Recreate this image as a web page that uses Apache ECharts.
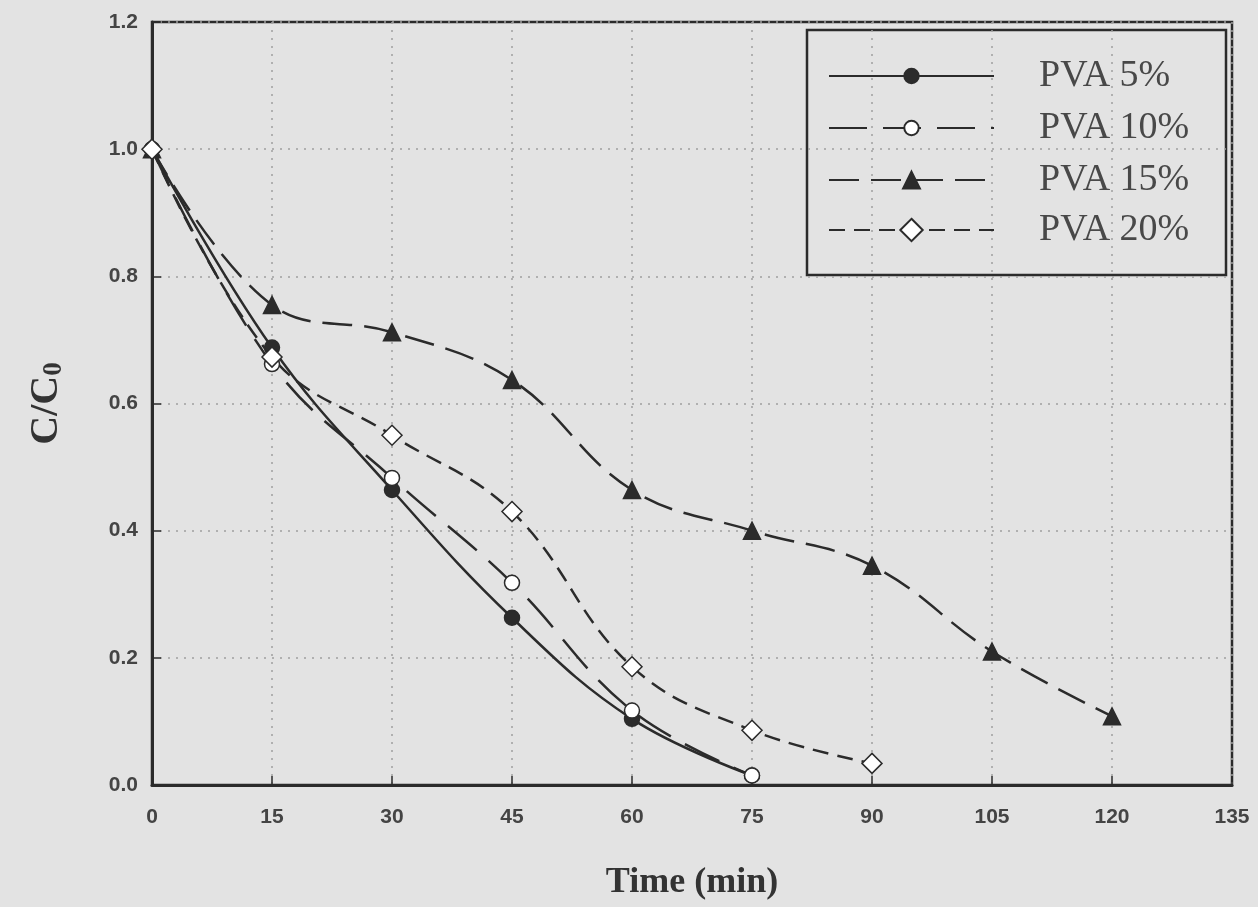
<!DOCTYPE html>
<html>
<head>
<meta charset="utf-8">
<script src="https://cdn.jsdelivr.net/npm/echarts@6/dist/echarts.min.js"></script>
<style>
  html, body { margin: 0; padding: 0; background: #e3e3e3; }
  #chart { width: 1258px; height: 907px; }
</style>
</head>
<body>
<div id="chart"></div>
<script>
// time in minutes
var times = [0, 15, 30, 45, 60, 75, 90, 105, 120]
var pva5 = [1.0, 0.688, 0.464, 0.263, 0.104, 0.015]
var pva10 = [1.0, 0.662, 0.483, 0.318, 0.117, 0.015]
var pva15 = [1.0, 0.755, 0.712, 0.637, 0.464, 0.400, 0.345, 0.210, 0.108]
var pva20 = [1.0, 0.673, 0.550, 0.430, 0.186, 0.086, 0.034]
var names = ['PVA 5%', 'PVA 10%', 'PVA 15%', 'PVA 20%']

var ink = '#2b2b2b'

function pairs(vals) {
  return vals.map(function (v, i) { return [times[i], v] })
}

function makeSeries(name, vals, symbol, size, fill, dash) {
  return {
    name: name,
    type: 'line',
    data: pairs(vals),
    smooth: 0.4,
    symbol: symbol,
    symbolSize: size,
    showAllSymbol: true,
    itemStyle: { color: fill, borderColor: ink, borderWidth: 1.5, opacity: 1 },
    lineStyle: { color: ink, width: 2.5, type: dash },
    emphasis: { disabled: true },
    animation: false
  }
}

// one legend per row so each marker can get its own size
var rowY = [76, 128, 180, 230]
var iconH = [18, 18, 21, 28]
var legends = names.map(function (n, i) {
  return {
    data: [n],
    left: 828, top: rowY[i] - 19,
    padding: 0,
    itemWidth: 165,
    itemHeight: iconH[i],
    textStyle: {
      fontFamily: 'Liberation Serif', fontSize: 38, color: '#484848',
      padding: [0, 0, 0, 40]
    },
    selectedMode: false
  }
})

var grid = { color: '#a0a0a0', type: [2, 6], width: 1.5 }

var chart = echarts.init(document.getElementById('chart'))
chart.setOption({
  backgroundColor: '#e3e3e3',
  grid: {
    left: 152, right: 26, top: 22, bottom: 122,
    show: true, borderColor: ink, borderWidth: 2.5
  },
  legend: legends,
  graphic: [{
    type: 'rect',
    shape: { x: 807, y: 30, width: 419, height: 245 },
    style: { fill: '#e3e3e3', stroke: ink, lineWidth: 2.5 },
    z: 0
  }],
  xAxis: {
    type: 'value', min: 0, max: 135, interval: 15,
    name: 'Time (min)', nameLocation: 'middle', nameGap: 80,
    nameTextStyle: { fontFamily: 'Liberation Serif', fontWeight: 'bold', fontSize: 36, color: '#333' },
    axisLine: { lineStyle: { color: ink, width: 3 } },
    axisTick: { inside: true, length: 9, lineStyle: { color: ink, width: 1.5 } },
    axisLabel: { margin: 22, fontFamily: 'Liberation Sans', fontWeight: 'bold', fontSize: 21, color: '#444' },
    splitLine: { show: true, lineStyle: grid }
  },
  yAxis: {
    type: 'value', min: 0, max: 1.2, interval: 0.2,
    name: '{m|C/C}{s|0}', nameLocation: 'middle', nameGap: 84,
    nameTextStyle: {
      rich: {
        m: { fontFamily: 'Liberation Serif', fontWeight: 'bold', fontSize: 40, color: '#333' },
        s: { fontFamily: 'Liberation Serif', fontWeight: 'bold', fontSize: 27, color: '#333', verticalAlign: 'bottom', padding: [16, 0, 0, 0] }
      }
    },
    axisLine: { lineStyle: { color: ink, width: 3 } },
    axisTick: { inside: true, length: 9, lineStyle: { color: ink, width: 1.5 } },
    axisLabel: {
      margin: 14, fontFamily: 'Liberation Sans', fontWeight: 'bold', fontSize: 21, color: '#444',
      formatter: function (v) { return v.toFixed(1) }
    },
    splitLine: { show: true, lineStyle: grid }
  },
  series: [
    makeSeries(names[0], pva5, 'circle', 15, ink, 'solid'),
    makeSeries(names[1], pva10, 'circle', 15, '#ffffff', [38, 16]),
    makeSeries(names[2], pva15, 'triangle', 17, ink, [30, 12]),
    makeSeries(names[3], pva20, 'diamond', 20, '#ffffff', [16, 9])
  ]
})
</script>
</body>
</html>
